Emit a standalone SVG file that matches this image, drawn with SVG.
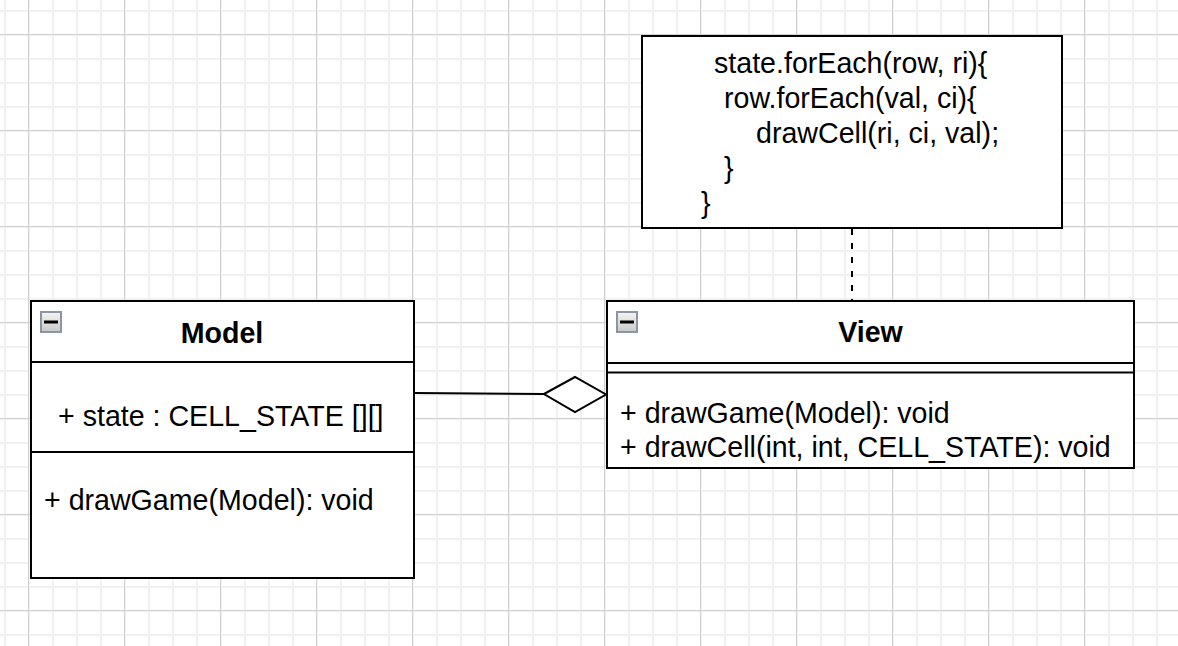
<svg xmlns="http://www.w3.org/2000/svg" width="1178" height="646" viewBox="0 0 1178 646">
  <defs>
    <pattern id="minor" x="4" y="10" width="24" height="24" patternUnits="userSpaceOnUse">
      <path d="M1 0V24M0 1H24" stroke="#f1f1f1" stroke-width="2" fill="none"/>
    </pattern>
    <pattern id="major" x="28" y="34" width="96" height="96" patternUnits="userSpaceOnUse">
      <path d="M0.5 0V96M0 0.5H96" stroke="#d0d0d0" stroke-width="1" fill="none"/>
    </pattern>
    <linearGradient id="iconGrad" x1="0" y1="0" x2="0" y2="1">
      <stop offset="0" stop-color="#f4f4f4"/>
      <stop offset="1" stop-color="#c9c9c9"/>
    </linearGradient>
    <g id="collapse">
      <rect x="1" y="1" width="20" height="20" fill="url(#iconGrad)" stroke="#8c95a5" stroke-width="2"/>
      <rect x="4" y="9.5" width="14" height="3" fill="#000"/>
    </g>
    <style>
      .box { fill: #ffffff; stroke: #000000; stroke-width: 2; }
      .div { stroke: #000000; stroke-width: 2; fill: none; }
      .t { font-family: "Liberation Sans", Arial, Helvetica, sans-serif; font-size: 28.6px; fill: #000000; }
      .title { font-weight: bold; text-anchor: middle; }
      .conn { stroke: #000000; stroke-width: 2; fill: none; }
    </style>
  </defs>

  <rect width="1178" height="646" fill="#ffffff"/>
  <rect width="1178" height="646" fill="url(#minor)"/>
  <rect width="1178" height="646" fill="url(#major)"/>

  <g id="connectors">
    <path class="conn" d="M415 393 L544 394"/>
    <polygon class="conn" points="544,394 575,377 606,394.5 575,412" style="fill:#ffffff"/>
    <path class="conn" d="M852 229 V300" stroke-dasharray="6 8"/>
  </g>

  <g id="note">
    <rect class="box" x="642" y="36" width="420" height="192"/>
    <text class="t" x="714" y="73">state.forEach(row, ri){</text>
    <text class="t" x="724" y="108">row.forEach(val, ci){</text>
    <text class="t" x="756" y="143">drawCell(ri, ci, val);</text>
    <text class="t" x="724" y="178">}</text>
    <text class="t" x="701" y="213">}</text>
  </g>

  <g id="model">
    <rect class="box" x="31" y="301" width="383" height="277"/>
    <path class="div" d="M31 362H414M31 452H414"/>
    <use href="#collapse" x="40" y="311"/>
    <text class="t title" x="222" y="343">Model</text>
    <text class="t" x="58" y="426">+ state : CELL_STATE [][]</text>
    <text class="t" x="44" y="510">+ drawGame(Model): void</text>
  </g>

  <g id="view">
    <rect class="box" x="607" y="301" width="527" height="167"/>
    <path class="div" d="M607 363H1134M607 372.5H1134"/>
    <use href="#collapse" x="616" y="311"/>
    <text class="t title" x="870.5" y="342">View</text>
    <text class="t" x="620" y="423">+ drawGame(Model): void</text>
    <text class="t" x="620" y="456.5">+ drawCell(int, int, CELL_STATE): void</text>
  </g>
</svg>
